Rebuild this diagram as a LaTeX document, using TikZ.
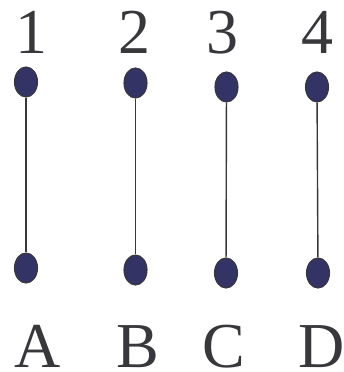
\documentclass[tikz,border=0pt]{standalone}
\usepackage{fontspec}
\setmainfont{Liberation Serif}
\usetikzlibrary{shapes.geometric}
\definecolor{bead}{RGB}{51,51,102}
\definecolor{ink}{RGB}{55,55,60}
\tikzset{
  every picture/.style={font=\fontsize{64}{64}\selectfont},
  pin/.style={ellipse,draw=ink,fill=bead,line width=1.1pt,minimum width=23pt,minimum height=30pt,inner sep=0pt},
  wire/.style={draw=ink,line width=1.4pt},
  tag/.style={text=ink,anchor=base,inner sep=0pt},
}
\begin{document}
\begin{tikzpicture}[x=1pt,y=-1pt]
  \useasboundingbox (0,0) rectangle (344,372);
  \foreach \n/\xt/\yt/\xb/\yb/\xn/\xl/\lab in
    {1/26/82/26/268/31/38/A, 2/135.5/83/135.5/270/134/138/B,
     3/226.5/87/226/273/222/224/C, 4/317/87/318/273/317/322/D} {
    \node[pin] (t\n) at (\xt,\yt) {};
    \node[pin] (b\n) at (\xb,\yb) {};
    \path[wire] (t\n) -- (b\n);
    \node[tag] (num\n) at (\xn,53) {\n};
    \node[tag] (let\n) at (\xl,367) {\lab};
  }
\end{tikzpicture}
\end{document}
